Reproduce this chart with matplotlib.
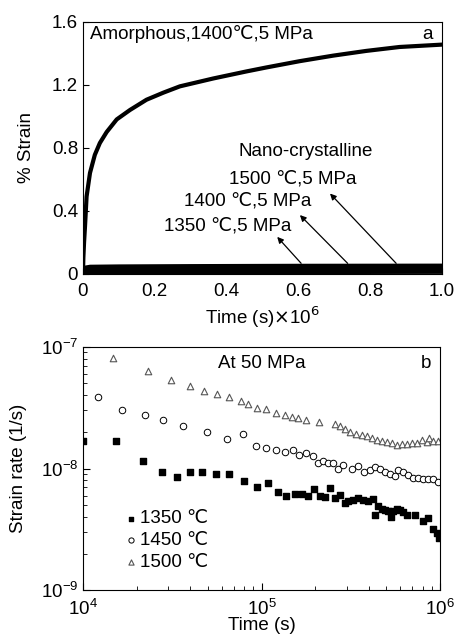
import numpy as np
import matplotlib
matplotlib.use('Agg')
import matplotlib.pyplot as plt
from matplotlib.ticker import NullFormatter

plt.rcParams['font.family'] = ['Liberation Sans', 'DejaVu Sans']
plt.rcParams['font.size'] = 13.5
FS = 13.5

# panel a: creep strain (%) vs time (x1e6 s)
amor_t = [0, 0.001, 0.003, 0.0056, 0.010, 0.0195, 0.033, 0.047, 0.066, 0.094, 0.131,
          0.177, 0.224, 0.27, 0.363, 0.456, 0.511, 0.604, 0.697, 0.789, 0.882, 1.0]
amor_strain = [0, 0.10, 0.20, 0.30, 0.49, 0.64, 0.755, 0.83, 0.90, 0.98, 1.04,
               1.105, 1.15, 1.19, 1.24, 1.285, 1.31, 1.35, 1.385, 1.415, 1.44, 1.455]

nano_t = [0, 0.005, 0.02, 0.1, 0.3, 0.6, 1.0]
nano_1350 = [0, 0.006, 0.008, 0.009, 0.010, 0.011, 0.012]
nano_1400 = [0, 0.022, 0.026, 0.028, 0.030, 0.031, 0.032]
nano_1500 = [0, 0.038, 0.044, 0.046, 0.048, 0.050, 0.051]

# panel b: strain rate (1/s) vs time (s) at 50 MPa
t_1350 = [10000, 15400, 21800, 27600, 33800, 39800, 46600, 55600, 65800, 79800,
          94000, 109000, 123000, 138000, 154000, 168000, 183000, 198000, 213000,
          227000, 242000, 258000, 275000, 294000, 306000, 327000, 349000, 372000,
          397000, 420000, 433000, 452000, 471000, 492000, 514000, 529000, 548000,
          572000, 597000, 618000, 650000, 724000, 800000, 861000, 918000, 958000, 991000]
r_1350 = [1.67e-8, 1.69e-8, 1.16e-8, 9.40e-9, 8.56e-9, 9.29e-9, 9.29e-9, 8.94e-9, 9.10e-9,
          7.94e-9, 7.01e-9, 7.56e-9, 6.47e-9, 5.97e-9, 6.19e-9, 6.19e-9, 5.97e-9, 6.76e-9,
          6.00e-9, 5.82e-9, 6.97e-9, 5.71e-9, 6.08e-9, 5.20e-9, 5.37e-9, 5.53e-9, 5.71e-9,
          5.47e-9, 5.45e-9, 5.61e-9, 4.13e-9, 4.89e-9, 4.68e-9, 4.59e-9, 4.45e-9, 3.98e-9,
          4.45e-9, 4.68e-9, 4.59e-9, 4.37e-9, 4.13e-9, 4.13e-9, 3.70e-9, 3.93e-9, 3.22e-9,
          2.97e-9, 2.67e-9]

t_1450 = [12200, 16500, 22200, 27900, 36500, 49300, 63800, 78400, 93100, 106000,
          120500, 135500, 149500, 163000, 177500, 193500, 208000, 222000, 237000,
          253000, 269000, 287000, 320000, 349000, 375000, 405000, 433000, 461000,
          492000, 525000, 560000, 584000, 623000, 665000, 709000, 756000, 807000,
          861000, 918000, 979000]
r_1450 = [3.88e-8, 3.05e-8, 2.74e-8, 2.49e-8, 2.25e-8, 2.00e-8, 1.74e-8, 1.91e-8, 1.54e-8,
          1.47e-8, 1.41e-8, 1.38e-8, 1.43e-8, 1.30e-8, 1.34e-8, 1.28e-8, 1.12e-8, 1.15e-8,
          1.12e-8, 1.11e-8, 1.00e-8, 1.06e-8, 9.88e-9, 1.05e-8, 9.40e-9, 9.69e-9, 1.03e-8,
          9.88e-9, 9.29e-9, 9.10e-9, 8.72e-9, 9.69e-9, 9.29e-9, 8.83e-9, 8.40e-9, 8.40e-9,
          8.20e-9, 8.20e-9, 8.20e-9, 7.80e-9]

t_1500 = [14800, 23200, 31000, 39800, 47800, 56300, 65800, 76400, 84400, 94000,
          106000, 120500, 135500, 147500, 160800, 177500, 211000, 258000, 275000,
          294000, 313000, 338000, 364000, 388000, 414000, 442000, 471000, 502000,
          536000, 572000, 610000, 650000, 694000, 740000, 789000, 842000, 867000,
          918000, 979000]
r_1500 = [8.04e-8, 6.27e-8, 5.30e-8, 4.80e-8, 4.32e-8, 4.06e-8, 3.88e-8, 3.58e-8, 3.41e-8,
          3.14e-8, 3.10e-8, 2.88e-8, 2.76e-8, 2.67e-8, 2.61e-8, 2.51e-8, 2.43e-8, 2.32e-8,
          2.22e-8, 2.11e-8, 2.01e-8, 1.92e-8, 1.89e-8, 1.84e-8, 1.78e-8, 1.73e-8, 1.68e-8,
          1.64e-8, 1.61e-8, 1.57e-8, 1.60e-8, 1.60e-8, 1.63e-8, 1.63e-8, 1.71e-8, 1.64e-8,
          1.77e-8, 1.67e-8, 1.67e-8]

fig = plt.figure(figsize=(4.56, 6.41), dpi=100)

# ---- panel a ----
ax1 = fig.add_axes([0.182, 0.573, 0.787, 0.393])
ax1.plot(amor_t, amor_strain, color='black', lw=3)
ax1.plot(nano_t, nano_1350, color='black', lw=3)
ax1.plot(nano_t, nano_1400, color='black', lw=3)
ax1.plot(nano_t, nano_1500, color='black', lw=3)
ax1.set_xlim(0, 1.0)
ax1.set_ylim(0, 1.6)
ax1.set_xticks([0, 0.2, 0.4, 0.6, 0.8, 1.0])
ax1.set_xticklabels(['0', '0.2', '0.4', '0.6', '0.8', '1.0'])
ax1.set_yticks([0, 0.4, 0.8, 1.2, 1.6])
ax1.set_yticklabels(['0', '0.4', '0.8', '1.2', '1.6'])
ax1.tick_params(direction='in', length=4, labelsize=FS)
ax1.tick_params(axis='x', pad=7)
ax1.set_xlabel('Time (s)$\\times$10$^6$', fontsize=FS, labelpad=3)
ax1.set_ylabel('% Strain', fontsize=FS, labelpad=12)

ax1.text(0.02, 1.52, 'Amorphous,1400℃,5 MPa', fontsize=FS, va='center', ha='left')
ax1.text(0.975, 1.52, 'a', fontsize=FS, va='center', ha='right')
ax1.text(0.62, 0.776, 'Nano-crystalline', fontsize=FS, ha='center', va='center')
ax1.text(0.585, 0.60, '1500 ℃,5 MPa', fontsize=FS, ha='center', va='center')
ax1.text(0.46, 0.459, '1400 ℃,5 MPa', fontsize=FS, ha='center', va='center')
ax1.text(0.404, 0.304, '1350 ℃,5 MPa', fontsize=FS, ha='center', va='center')

arrow = dict(arrowstyle='-|>', color='black', lw=0.9, mutation_scale=9)
ax1.annotate('', xy=(0.536, 0.247), xytext=(0.613, 0.053), arrowprops=arrow)
ax1.annotate('', xy=(0.599, 0.385), xytext=(0.743, 0.053), arrowprops=arrow)
ax1.annotate('', xy=(0.683, 0.522), xytext=(0.878, 0.053), arrowprops=arrow)

# ---- panel b ----
ax2 = fig.add_axes([0.182, 0.079, 0.783, 0.380])
ax2.scatter(t_1350, r_1350, marker='s', s=14, color='black', label='1350 ℃')
ax2.scatter(t_1450, r_1450, marker='o', s=22, facecolors='white', edgecolors='black',
            linewidths=0.7, label='1450 ℃')
ax2.scatter(t_1500, r_1500, marker='^', s=22, facecolors='white', edgecolors='#555555',
            linewidths=0.8, label='1500 ℃')
ax2.set_xscale('log')
ax2.set_yscale('log')
ax2.set_xlim(1e4, 1e6)
ax2.set_ylim(1e-9, 1e-7)
ax2.xaxis.set_minor_formatter(NullFormatter())
ax2.yaxis.set_minor_formatter(NullFormatter())
ax2.tick_params(which='both', direction='in', labelsize=FS)
ax2.tick_params(which='major', length=5)
ax2.tick_params(which='minor', length=3)
ax2.tick_params(axis='x', which='major', pad=6)
ax2.set_xlabel('Time (s)', fontsize=FS, labelpad=-1)
ax2.set_ylabel('Strain rate (1/s)', fontsize=FS, labelpad=10)
ax2.text(0.5, 0.93, 'At 50 MPa', transform=ax2.transAxes, ha='center', va='center', fontsize=FS)
ax2.text(0.975, 0.93, 'b', transform=ax2.transAxes, ha='right', va='center', fontsize=FS)
ax2.legend(loc='lower left', bbox_to_anchor=(0.06, 0.01), frameon=False, handletextpad=0.0,
           handlelength=1.0, labelspacing=0.25, fontsize=FS, markerscale=0.8)

fig.savefig('out.png', dpi=100)
